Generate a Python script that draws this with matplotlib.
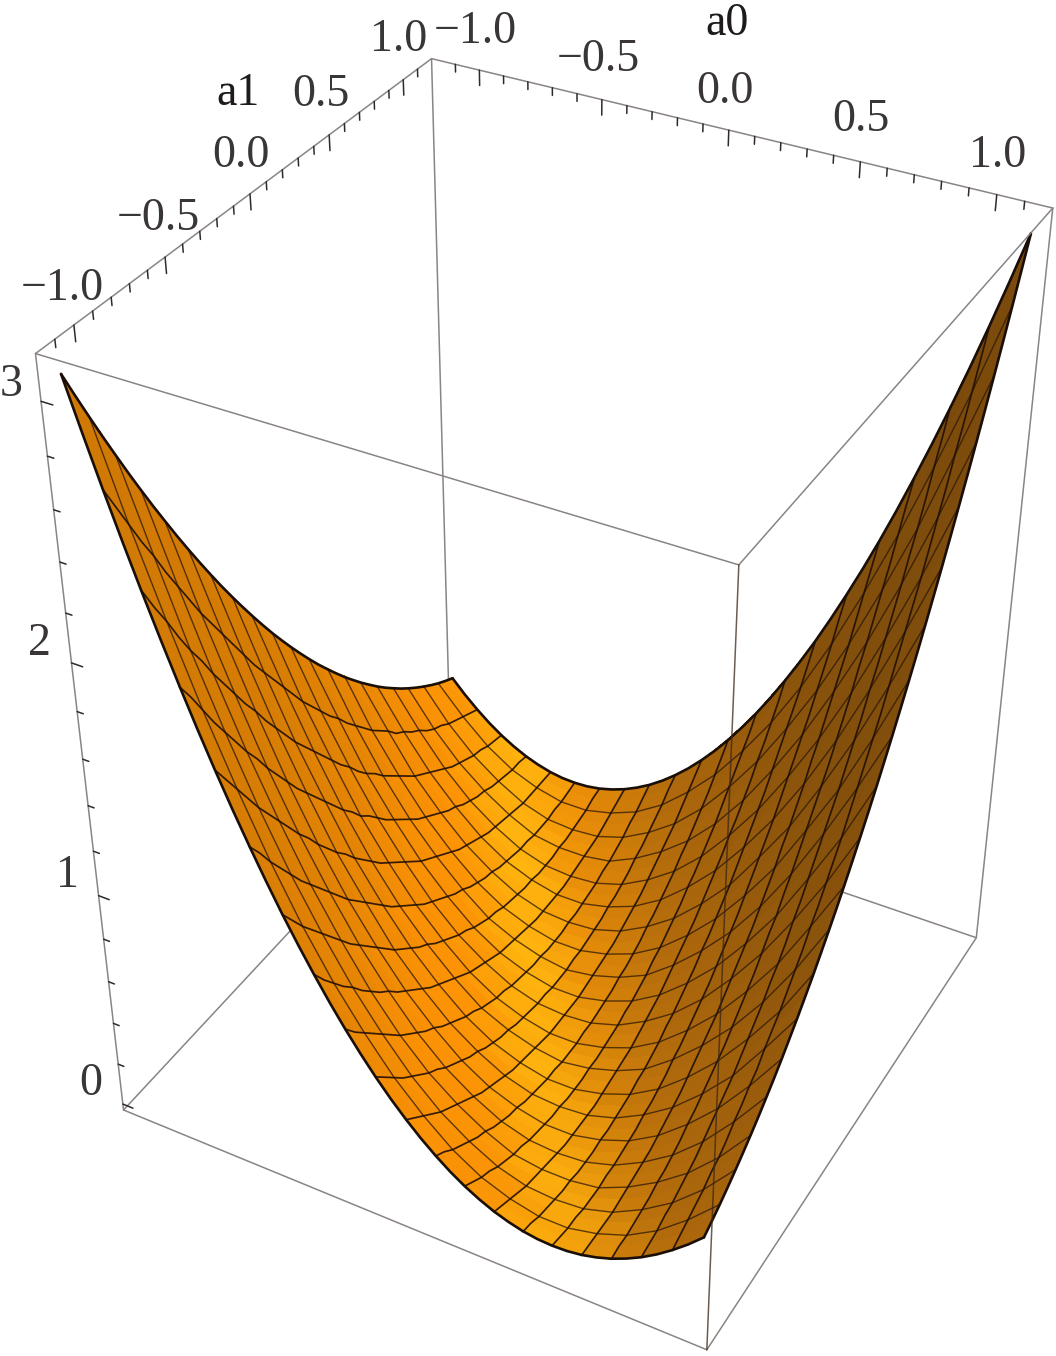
import numpy as np
import matplotlib
matplotlib.use('Agg')
import matplotlib.pyplot as plt
from mpl_toolkits.mplot3d.art3d import Line3DCollection

# surface values, in hundredths. rows = a1, columns = a0
a0_grid = [-1.15, -1.035, -0.92, -0.805, -0.69, -0.575, -0.46, -0.345, -0.23, -0.115, 0.0,
           0.115, 0.23, 0.345, 0.46, 0.575, 0.69, 0.805, 0.92, 1.035, 1.15]
a1_grid = [-1.15, -1.0925, -1.035, -0.9775, -0.92, -0.8625, -0.805, -0.7475, -0.69, -0.6325,
           -0.575, -0.5175, -0.46, -0.4025, -0.345, -0.2875, -0.23, -0.1725, -0.115, -0.0575, 0.0,
           0.0575, 0.115, 0.1725, 0.23, 0.2875, 0.345, 0.4025, 0.46, 0.5175,
           0.575, 0.6325, 0.69, 0.7475, 0.805, 0.8625, 0.92, 0.9775, 1.035, 1.0925, 1.15]
z_table = [
    [309,270,235,201,171,143,118,96,76,59,44,32,23,16,12,11,12,16,23,32,44],
    [298,260,225,193,163,136,111,89,70,54,40,29,20,14,11,10,12,17,24,34,46],
    [287,250,216,184,155,128,104,83,65,49,36,25,17,12,9,9,12,17,25,36,49],
    [277,240,206,175,147,121,98,77,60,44,32,22,15,10,8,9,12,18,27,38,52],
    [266,231,197,167,139,114,92,72,55,40,28,19,12,8,7,8,12,19,28,40,55],
    [256,221,189,159,132,107,86,66,50,36,25,16,10,7,6,8,13,20,30,43,58],
    [246,212,180,151,125,101,80,61,45,32,22,14,8,6,6,8,14,22,32,45,61],
    [237,203,172,144,118,95,74,56,41,29,19,11,7,5,5,9,15,23,34,48,65],
    [227,194,164,136,111,89,69,52,37,25,16,9,5,4,5,9,16,25,37,52,69],
    [218,186,156,129,105,83,64,47,33,22,13,7,4,3,5,10,17,27,40,55,73],
    [209,178,149,122,98,77,59,43,30,19,11,6,3,3,6,11,19,30,43,59,77],
    [201,170,141,115,92,72,54,39,26,16,9,4,2,3,6,12,21,32,46,62,82],
    [192,162,134,109,86,67,49,35,23,14,7,3,2,3,7,14,23,35,49,67,86],
    [184,154,127,103,81,62,45,31,20,11,5,2,1,3,8,15,25,38,53,71,91],
    [176,147,120,97,75,57,41,28,17,9,4,1,1,4,9,17,28,41,57,75,97],
    [168,140,114,91,70,52,37,25,15,7,3,1,1,5,11,19,31,44,61,80,102],
    [160,133,108,85,65,48,34,22,12,6,2,0,2,6,12,22,34,48,65,85,108],
    [153,126,102,80,60,44,30,19,10,4,1,0,2,7,14,24,37,52,70,90,113],
    [146,119,96,74,56,40,27,16,8,3,0,0,3,8,16,27,40,56,74,96,119],
    [139,113,90,70,52,36,24,14,7,2,0,1,4,10,19,30,44,60,79,101,126],
    [132,107,85,65,48,33,21,12,5,1,0,1,5,12,21,33,48,65,85,107,132],
    [126,101,79,60,44,30,19,10,4,1,0,2,7,14,24,36,52,70,90,113,139],
    [119,96,74,56,40,27,16,8,3,0,0,3,8,16,27,40,56,74,96,119,146],
    [113,90,70,52,37,24,14,7,2,0,1,4,10,19,30,44,60,80,102,126,153],
    [108,85,65,48,34,22,12,6,2,0,2,6,12,22,34,48,65,85,108,133,160],
    [102,80,61,44,31,19,11,5,1,1,3,7,15,25,37,52,70,91,114,140,168],
    [97,75,57,41,28,17,9,4,1,1,4,9,17,28,41,57,75,97,120,147,176],
    [91,71,53,38,25,15,8,3,1,2,5,11,20,31,45,62,81,103,127,154,184],
    [86,67,49,35,23,14,7,3,2,3,7,14,23,35,49,67,86,109,134,162,192],
    [82,62,46,32,21,12,6,3,2,4,9,16,26,39,54,72,92,115,141,170,201],
    [77,59,43,30,19,11,6,3,3,6,11,19,30,43,59,77,98,122,149,178,209],
    [73,55,40,27,17,10,5,3,4,7,13,22,33,47,64,83,105,129,156,186,218],
    [69,52,37,25,16,9,5,4,5,9,16,25,37,52,69,89,111,136,164,194,227],
    [65,48,34,23,15,9,5,5,7,11,19,29,41,56,74,95,118,144,172,203,237],
    [61,45,32,22,14,8,6,6,8,14,22,32,45,61,80,101,125,151,180,212,246],
    [58,43,30,20,13,8,6,7,10,16,25,36,50,66,86,107,132,159,189,221,256],
    [55,40,28,19,12,8,7,8,12,19,28,40,55,72,92,114,139,167,197,231,266],
    [52,38,27,18,12,9,8,10,15,22,32,44,60,77,98,121,147,175,206,240,277],
    [49,36,25,17,12,9,9,12,17,25,36,49,65,83,104,128,155,184,216,250,287],
    [46,34,24,17,12,10,11,14,20,29,40,54,70,89,111,136,163,193,225,260,298],
    [44,32,23,16,12,11,12,16,23,32,44,59,76,96,118,143,171,201,235,270,309],
]
# rims of the sheet at finer steps and one more digit, so the outline stays round
rim_t = a1_grid
rim_a1_low = [308.6,289.1,270.2,252.0,234.5,217.7,201.5,185.9,171.0,156.8,143.3,130.4,118.1,106.6,95.7,85.4,
              75.8,66.9,58.6,51.0,44.1,37.8,32.2,27.2,22.9,19.3,16.3,14.0,12.3,11.3,11.0,11.3,12.3,14.0,16.3,
              19.3,22.9,27.2,32.2,37.8,44.1]
rim_a0_low = [308.6,297.7,287.0,276.5,266.3,256.2,246.4,236.8,227.5,218.3,209.4,200.7,192.2,183.9,175.9,168.1,
              160.5,153.1,145.9,139.0,132.3,125.8,119.5,113.4,107.6,102.0,96.5,91.4,86.4,81.7,77.1,72.8,68.8,
              64.9,61.3,57.9,54.7,51.7,48.9,46.4,44.1]

ab_ticks = [-1.1, -1.0, -0.9, -0.8, -0.7, -0.6, -0.5, -0.4, -0.3, -0.2, -0.1, 0.0,
            0.1, 0.2, 0.3, 0.4, 0.5, 0.6, 0.7, 0.8, 0.9, 1.0, 1.1]
ab_major = [-1.0, -0.5, 0.0, 0.5, 1.0]
z_ticks = [0.0, 0.2, 0.4, 0.6, 0.8, 1.0, 1.2, 1.4, 1.6, 1.8, 2.0, 2.2, 2.4, 2.6, 2.8, 3.0]
z_major = [0.0, 1.0, 2.0, 3.0]

# box range and where its corners land in the picture (camera fit)
R, B, T = 1.2, -0.03, 3.17
box_3d = [(-R, R, T), (R, R, T), (-R, -R, T), (R, -R, T), (-R, -R, B), (R, -R, B), (R, R, B), (-R, R, B)]
box_px = [(430, 58), (1053, 209), (36, 355), (740, 563), (123, 1110), (706, 1350), (976, 938), (452, 758)]

W, H = 1056, 1356


def fit_camera(pts, px):
    rows, rhs = [], []
    for (x, y, z), (u, v) in zip(pts, px):
        v = H - v
        rows.append([x, y, z, 1, 0, 0, 0, 0, -u*x, -u*y, -u*z])
        rhs.append(u)
        rows.append([0, 0, 0, 0, x, y, z, 1, -v*x, -v*y, -v*z])
        rhs.append(v)
    p = np.linalg.lstsq(np.array(rows, float), np.array(rhs, float), rcond=None)[0]
    return np.array([p[:4], p[4:8], [0, 0, 0, -1], [p[8], p[9], p[10], 1]])


M = fit_camera(box_3d, box_px)

fig = plt.figure(figsize=(W/100, H/100), dpi=100)
ax = fig.add_axes([0, 0, 1, 1], projection='3d', computed_zorder=False)
ax.set_axis_off()
ax.get_proj = lambda: M
ax.apply_aspect = lambda position=None: None
ax.viewLim.intervalx = (0, W)
ax.viewLim.intervaly = (0, H)

a0 = np.array(a0_grid)
a1 = np.array(a1_grid)
A0, A1 = np.meshgrid(a0, a1)
Z = np.array(z_table) / 100.0

# lighting: a wide side light for the brown to orange ramp, plus a yellow glow
dz1, dz0 = np.gradient(Z, a1, a0)
n = np.dstack([-dz0, -dz1, np.ones_like(Z)])
n = n / np.linalg.norm(n, axis=2, keepdims=True)
side = np.array([0.75, -0.05, 0.66])
s = n @ side
ramp_s = [-0.5, 0.0, 0.3, 0.6, 0.9]
ramp_c = np.array([[140, 85, 14], [175, 105, 12], [210, 128, 10], [232, 136, 8], [252, 146, 5]]) / 255.0
rgb = np.dstack([np.interp(s, ramp_s, ramp_c[:, k]) for k in range(3)])
rgb = rgb * np.interp(n[..., 2], [0.2, 0.35, 0.6], [0.84, 0.87, 1.0])[..., None]
glow = np.exp(-((dz0 + 0.39) / 0.9)**2 - ((dz1 + 0.11) / 0.21)**2)[..., None]
rgb = rgb * (1 - glow) + np.array([255, 182, 15]) / 255.0 * glow
cell = 0.25 * (rgb[:-1, :-1] + rgb[1:, :-1] + rgb[:-1, 1:] + rgb[1:, 1:])
colors = np.dstack([cell, np.ones(cell.shape[:2])])


def lines3d(segs, c, lw, zo, alpha=1.0):
    lc = Line3DCollection(segs, colors=c, linewidths=lw, zorder=zo, alpha=alpha)
    lc.set_capstyle('round')
    ax.add_collection3d(lc, autolim=False)


box_gray = '#8a8484'
box_lw = 1.1

# back box edges, surface covers them
lines3d([[(-R, R, T), (-R, R, B)], [(-R, R, B), (-R, -R, B)], [(-R, R, B), (R, R, B)]], box_gray, box_lw, 1)

ax.plot_surface(A0, A1, Z, facecolors=colors, rstride=1, cstride=1, shade=False,
                linewidth=0, edgecolor='none', antialiased=False, zorder=2)

# mesh: every other a1 row, every a0 column
mesh_a1 = [np.column_stack([a0, a0*0+a1[i], Z[i, :]]) for i in range(2, 40, 2)]
mesh_a0 = [np.column_stack([a1*0+a0[j], a1, Z[:, j]]) for j in range(1, 20)]
lines3d(mesh_a1, (0.17, 0.09, 0.02), 1.0, 2.5, alpha=0.75)
lines3d(mesh_a0, (0.13, 0.06, 0.02), 1.25, 2.5, alpha=0.9)

# dark outline of the sheet
rim = np.array(rim_t)
rz1 = np.array(rim_a1_low) / 100.0
rz0 = np.array(rim_a0_low) / 100.0
outline = [np.column_stack([rim, rim*0+a1[0], rz1]), np.column_stack([rim, rim*0+a1[-1], rz1[::-1]]),
           np.column_stack([rim*0+a0[0], rim, rz0]), np.column_stack([rim*0+a0[-1], rim, rz0[::-1]])]
lines3d(outline, '#1a0f08', 1.9, 3)

# front box edges
lines3d([[(-R, R, T), (R, R, T)], [(-R, R, T), (-R, -R, T)], [(-R, -R, T), (R, -R, T)],
         [(R, R, T), (R, -R, T)], [(-R, -R, T), (-R, -R, B)], [(R, R, T), (R, R, B)],
         [(-R, -R, B), (R, -R, B)], [(R, -R, B), (R, R, B)]], box_gray, box_lw, 4)
lines3d([[(R, -R, T), (R, -R, B)]], '#3c2616', box_lw, 4, alpha=0.75)

tick_c = '#2e2a2a'
segs = []
for t in ab_ticks:
    d = 0.06 if t in ab_major else 0.03
    segs.append([(t, R, T), (t, R, T-d)])
    segs.append([(-R, t, T), (-R, t, T-d)])
for t in z_ticks:
    d = 0.045 if t in z_major else 0.025
    segs.append([(-R, -R, t), (-R+d, -R, t)])
lines3d(segs, tick_c, 1.1, 5)

# tick labels, placed by hand like the original
font = ['Liberation Serif', 'DejaVu Serif']
label_c = '#3a3636'
tick_labels = [
    ('\u22121.0', 62, 289), ('\u22120.5', 158, 219), ('0.0', 241, 156), ('0.5', 321, 95), ('1.0', 399, 40),
    ('\u22121.0', 475, 32), ('\u22120.5', 598, 60), ('0.0', 725, 92), ('0.5', 861, 120), ('1.0', 998, 156),
    ('3', 11, 385), ('2', 39, 644), ('1', 67, 876), ('0', 91, 1084),
]
for s_, x, y in tick_labels:
    fig.text(x/W, 1-y/H, s_, ha='center', va='center', fontsize=33, color=label_c, family=font)
fig.text(238/W, 1-94/H, 'a1', ha='center', va='center', fontsize=33, color='#1f1b1b', family=font)
fig.text(727/W, 1-24/H, 'a0', ha='center', va='center', fontsize=33, color='#1f1b1b', family=font)

fig.savefig('out.png', dpi=100)
